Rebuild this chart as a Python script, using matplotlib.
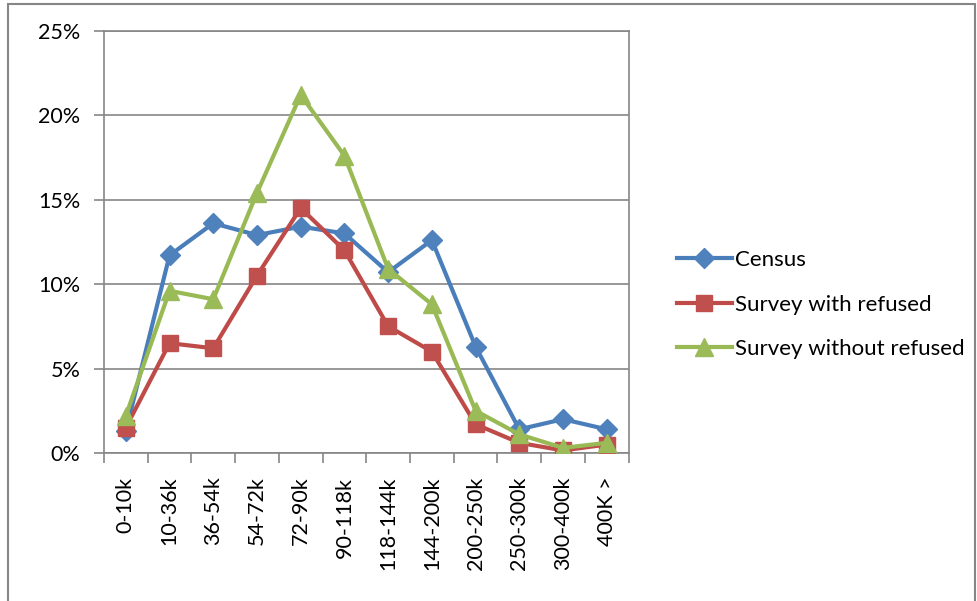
import numpy as np
import matplotlib.pyplot as plt
from matplotlib.patches import Rectangle
from matplotlib.ticker import FuncFormatter, MultipleLocator

categories = ["0-10k", "10-36k", "36-54k", "54-72k", "72-90k", "90-118k",
              "118-144k", "144-200k", "200-250k", "250-300k", "300-400k", "400K >"]

census = [1.3, 11.7, 13.6, 12.9, 13.4, 13.0, 10.7, 12.6, 6.3, 1.4, 2.0, 1.4]
survey_with = [1.5, 6.5, 6.2, 10.5, 14.5, 12.0, 7.5, 6.0, 1.7, 0.6, 0.15, 0.5]
survey_without = [2.2, 9.6, 9.1, 15.4, 21.2, 17.6, 10.9, 8.8, 2.5, 1.1, 0.3, 0.6]

series_names = ["Census", "Survey with refused", "Survey without refused"]

plt.rcParams["font.family"] = ["Lato", "DejaVu Sans"]

GRID = "#868686"

fig = plt.figure(figsize=(9.77, 6.01), dpi=100)
ax = fig.add_axes([0.1064, 0.2463, 0.537, 0.7026])

x = np.arange(len(categories))

ax.plot(x, census, color="#4A7EBB", lw=3, marker="D", ms=10,
        mfc="#4F81BD", mec="#4F81BD", label=series_names[0], zorder=3)
ax.plot(x, survey_with, color="#BE4B48", lw=3, marker="s", ms=11,
        mfc="#C0504D", mec="#C0504D", label=series_names[1], zorder=4)
ax.plot(x, survey_without, color="#98B954", lw=3, marker="^", ms=13,
        mfc="#9BBB59", mec="#9BBB59", label=series_names[2], zorder=5)

ax.set_xlim(-0.5, len(categories) - 0.5)
ax.set_ylim(0, 25)
ax.yaxis.set_major_locator(MultipleLocator(5))
ax.yaxis.set_major_formatter(FuncFormatter(lambda v, p: f"{v:.0f}%"))
ax.grid(axis="y", color=GRID, lw=1.2)
ax.set_axisbelow(True)

ax.set_xticks(x)
ax.set_xticklabels(categories, rotation=90)
ax.set_xticks(np.arange(-0.5, len(categories), 1.0), minor=True)
ax.tick_params(axis="x", which="major", length=0, pad=17, labelsize=15.5)
ax.tick_params(axis="x", which="minor", length=7, color=GRID, width=1.2)
ax.tick_params(axis="y", length=7, color=GRID, width=1.2, labelsize=15.5, pad=10)

for s in ax.spines.values():
    s.set_color(GRID)
    s.set_linewidth(1.2)

leg = ax.legend(loc="center left", bbox_to_anchor=(0.672, 0.493),
                bbox_transform=fig.transFigure, frameon=False, fontsize=16,
                handlelength=2.5, handletextpad=0.15, labelspacing=1.1)

fig.add_artist(Rectangle((8 / 977, -0.05), 967 / 977, 1.05 - 4 / 601,
                         transform=fig.transFigure, fill=False,
                         edgecolor=GRID, lw=1.5))

fig.savefig("out.png", dpi=100)
